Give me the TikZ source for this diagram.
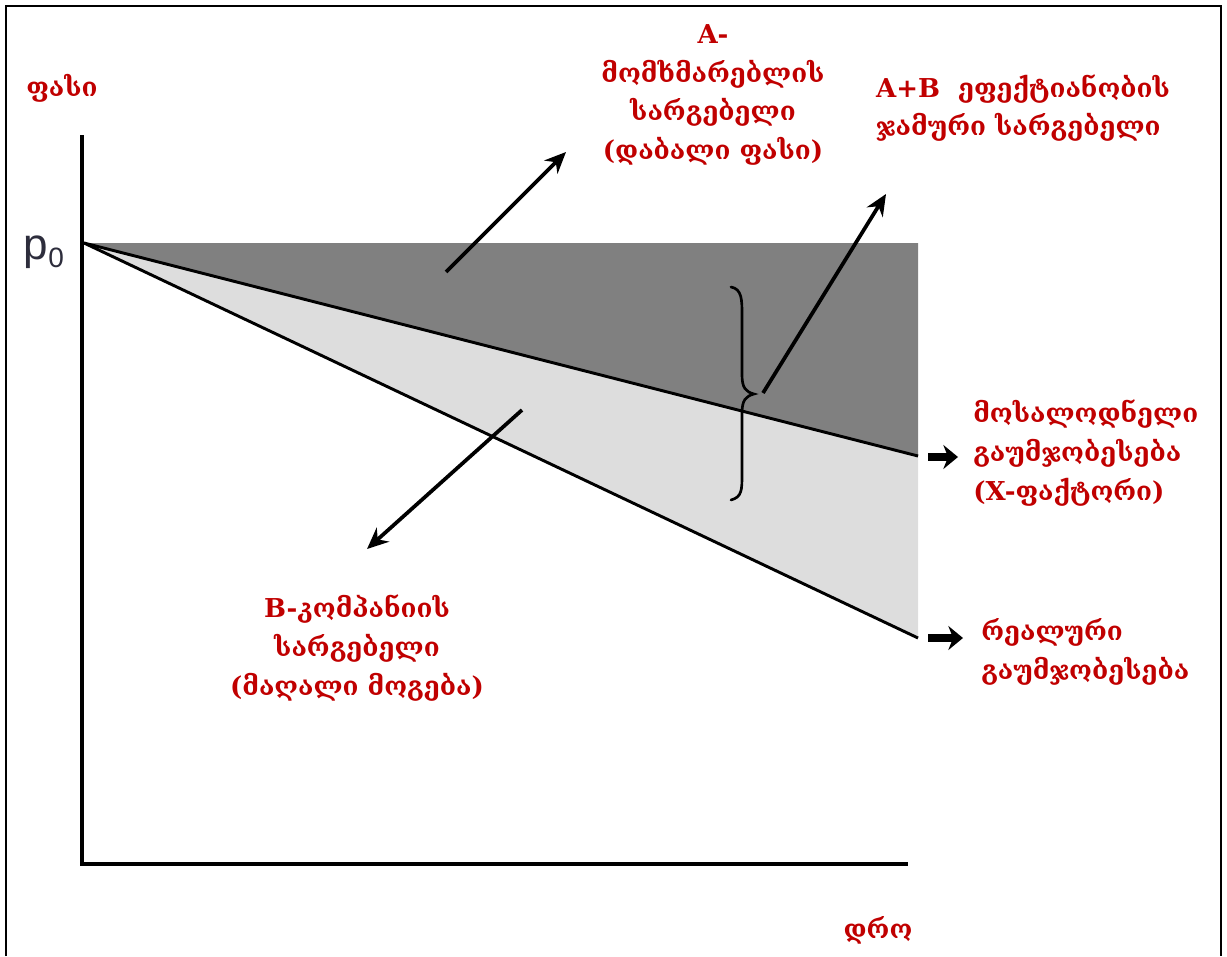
\documentclass[tikz,border=0pt]{standalone}
\usepackage{fontspec}
\usetikzlibrary{arrows.meta}
\newfontfamily\geofont{DejaVu Serif}
\newfontfamily\arialfont{Liberation Sans}
\definecolor{labelred}{RGB}{192,0,0}
\definecolor{darkband}{RGB}{128,128,128}
\definecolor{lightband}{RGB}{221,221,221}
\definecolor{pcol}{RGB}{45,45,60}
\tikzset{
  lbl/.style={text=labelred, font=\geofont\bfseries\fontsize{19.5}{29}\selectfont, align=center, inner sep=0pt},
  lbll/.style={lbl, align=left, anchor=west},
  bigarrow/.style={line width=2.8pt, -{Stealth[length=16pt,width=14pt]}},
  stubarrow/.style={line width=6pt, -{Stealth[length=11pt,width=18pt]}},
  axisline/.style={line width=2.4pt, line cap=rect},
  trend/.style={line width=2.2pt},
}
\begin{document}
\begin{tikzpicture}[x=0.75pt,y=-0.75pt]
\useasboundingbox (0,0) rectangle (1227,956);
% frame
\draw[line width=1.5pt] (6,956) -- (6,6) -- (1221,6) -- (1221,956);
% regions
\coordinate (P0) at (84,243);
\coordinate (TR) at (918,243);
\coordinate (XE) at (918,456);
\coordinate (RE) at (918,638);
\fill[darkband] (P0) -- (TR) -- (XE) -- cycle;
\fill[lightband] (P0) -- (XE) -- (RE) -- cycle;
% axes
\coordinate (Ytop) at (82,137);
\coordinate (O) at (82,864);
\coordinate (Xend) at (906,864);
\draw[axisline] (Ytop) -- (O) -- (Xend);
% trend lines
\draw[trend] (P0) -- (XE);
\draw[trend] (P0) -- (RE);
% labels
\node[text=pcol, font=\arialfont\fontsize{33}{33}\selectfont, inner sep=0pt] (p0) at (44,252) {p\raisebox{-6pt}{\fontsize{21}{21}\selectfont 0}};
\node[lbl] (price) at (62,88) {ფასი};
\node[lbl] (time) at (878,930) {დრო};
\node[lbl] (A) at (713,95) {A-\\მომხმარებლის\\სარგებელი\\(დაბალი ფასი)};
\node[lbl, align=left] (AB) at (1023,108) {A+B\ \ ეფექტიანობის\\ჯამური სარგებელი};
\node[lbll] (X) at (973,453) {მოსალოდნელი\\გაუმჯობესება\\(X-ფაქტორი)};
\node[lbll] (R) at (981,652) {რეალური\\გაუმჯობესება};
\node[lbl] (B) at (357,648) {B-კომპანიის\\სარგებელი\\(მაღალი მოგება)};
% arrows
\coordinate (Astart) at (446,272);
\coordinate (Aend) at (566,152);
\draw[bigarrow] (Astart) -- (Aend);
\coordinate (ABstart) at (763,393);
\coordinate (ABend) at (886,194);
\draw[bigarrow] (ABstart) -- (ABend);
\coordinate (Bstart) at (522,410);
\coordinate (Bend) at (367,549);
\draw[bigarrow] (Bstart) -- (Bend);
% brace
\draw[line width=2pt, line cap=round] (731,287) .. controls (742,289) and (742,300) .. (742,315)
  -- (742,375) .. controls (742,388) and (746,392) .. (754,394)
  .. controls (746,396) and (742,400) .. (742,413)
  -- (742,474) .. controls (742,490) and (742,497) .. (731,500);
% stub arrows
\coordinate (Xs) at (928,457);
\coordinate (Xt) at (958,457);
\draw[stubarrow] (Xs) -- (Xt);
\coordinate (Rs) at (928,638);
\coordinate (Rt) at (963,638);
\draw[stubarrow] (Rs) -- (Rt);
\end{tikzpicture}
\end{document}
